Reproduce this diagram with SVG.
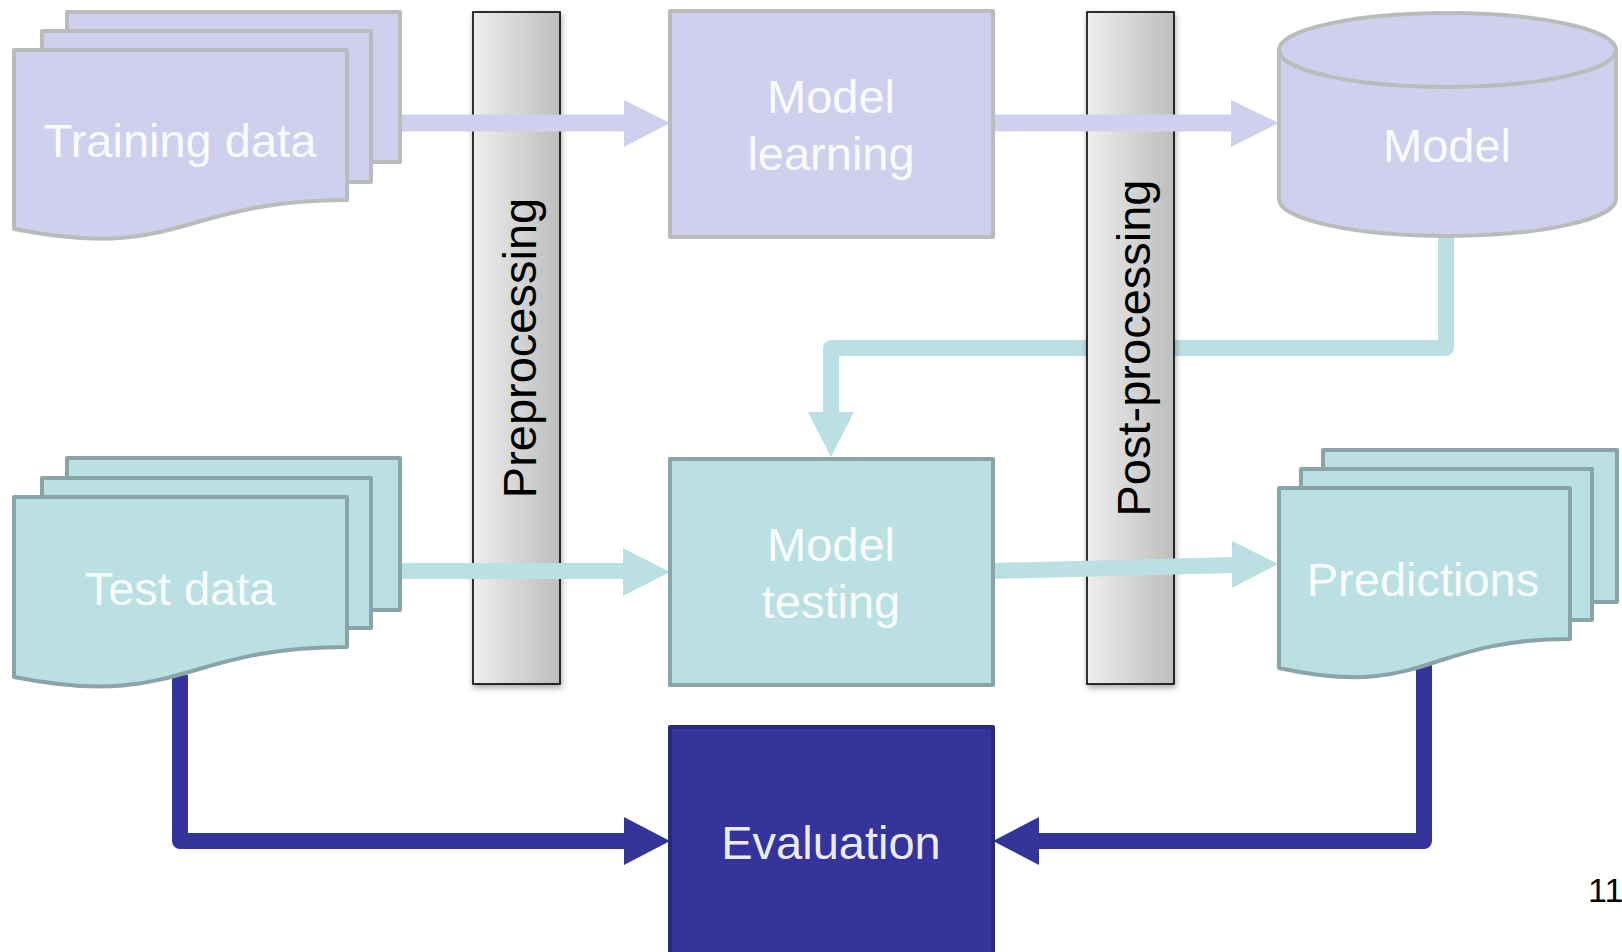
<svg xmlns="http://www.w3.org/2000/svg" width="1622" height="952" viewBox="0 0 1622 952">
<defs>
<linearGradient id="barGrad" x1="0" y1="0" x2="1" y2="0">
<stop offset="0" stop-color="#EEEEEE"/>
<stop offset="1" stop-color="#BDBDBD"/>
</linearGradient>
<filter id="shadow" x="-30%" y="-5%" width="160%" height="110%">
<feDropShadow dx="1" dy="3" stdDeviation="3" flood-color="#000" flood-opacity="0.35"/>
</filter>
</defs>
<style>
.lav{fill:#CFD0EE;stroke:#BBBBBB;stroke-width:4;stroke-linejoin:round}
.cya{fill:#BBE0E3;stroke:#8AA5A7;stroke-width:4;stroke-linejoin:round}
.nav{fill:#34349A;stroke:#2B2B78;stroke-width:4;stroke-linejoin:round}
.lbl{font-family:"Liberation Sans",Arial,sans-serif;font-size:47px;text-anchor:middle;fill:#FFFFFF;fill-opacity:0.93}
.bartxt{font-family:"Liberation Sans",Arial,sans-serif;font-size:47px;text-anchor:middle;fill:#000000}
.bar{fill:url(#barGrad);stroke:#000;stroke-width:1.6}
.lineL{fill:none;stroke:#CFD0EE;stroke-width:17}
.lineC{fill:none;stroke:#BBE0E3;stroke-width:16;stroke-linejoin:round}
.lineN{fill:none;stroke:#34349A;stroke-width:16;stroke-linejoin:round}
.headL{fill:#CFD0EE}
.headC{fill:#BBE0E3}
.headN{fill:#34349A}
</style>
<rect width="1622" height="952" fill="#FFFFFF"/>

<g id="connectors-under">
<polyline class="lineC" points="1446,230 1446,348 831,348 831,414"/>
<polygon class="headC" points="808,412 854,412 831,457"/>
</g>

<g id="preprocessing">
<rect class="bar" x="473" y="12" width="87" height="672" filter="url(#shadow)"/>
<text class="bartxt" transform="translate(536,348) rotate(-90)">Preprocessing</text>
</g>
<g id="post-processing">
<rect class="bar" x="1087" y="12" width="87" height="672" filter="url(#shadow)"/>
<text class="bartxt" transform="translate(1150,348) rotate(-90)">Post-processing</text>
</g>

<g id="connectors">
<line class="lineL" x1="398" y1="123" x2="626" y2="123"/>
<polygon class="headL" points="624,100 670,123 624,147"/>
<line class="lineL" x1="991" y1="123" x2="1233" y2="123"/>
<polygon class="headL" points="1231,100 1279,123 1231,147"/>
<line class="lineC" x1="398" y1="571" x2="626" y2="571"/>
<polygon class="headC" points="623,548 670,572 623,596"/>
<line class="lineC" x1="991" y1="571" x2="1234" y2="565"/>
<polygon class="headC" points="1232,541 1278,564 1232,588"/>
<polyline class="lineN" points="180,675 180,841 626,841"/>
<polygon class="headN" points="624,817 670,841 624,865"/>
<polyline class="lineN" points="1424,660 1424,841 1037,841"/>
<polygon class="headN" points="1039,817 993,841 1039,865"/>
</g>

<g id="training-data">
<rect class="lav" x="67" y="12" width="333" height="150"/>
<rect class="lav" x="42" y="31" width="329" height="151"/>
<path class="lav" d="M14,50 H347 V200 C180.5,200 180.5,262 14,229 Z"/>
<text class="lbl" x="180" y="157">Training data</text>
</g>

<g id="model-learning">
<rect class="lav" x="670" y="11" width="323" height="226"/>
<text class="lbl" x="831" y="113">Model</text>
<text class="lbl" x="831" y="170">learning</text>
</g>

<g id="model">
<path class="lav" d="M1279,50 V199 A168.5,37 0 0 0 1616,199 V50 Z"/>
<ellipse class="lav" cx="1447.5" cy="50" rx="168.5" ry="37"/>
<text class="lbl" x="1447" y="162">Model</text>
</g>

<g id="test-data">
<rect class="cya" x="67" y="458" width="333" height="152"/>
<rect class="cya" x="42" y="478" width="329" height="150"/>
<path class="cya" d="M14,497 H347 V647 C180.5,647 180.5,710 14,677 Z"/>
<text class="lbl" x="180" y="605">Test data</text>
</g>

<g id="model-testing">
<rect class="cya" x="670" y="459" width="323" height="226"/>
<text class="lbl" x="831" y="561">Model</text>
<text class="lbl" x="831" y="618">testing</text>
</g>

<g id="predictions">
<rect class="cya" x="1323" y="450" width="294" height="152"/>
<rect class="cya" x="1301" y="469" width="291" height="151"/>
<path class="cya" d="M1279,488 H1570 V639 C1424.5,639 1424.5,700 1279,668 Z"/>
<text class="lbl" x="1423" y="596">Predictions</text>
</g>

<g id="evaluation">
<rect class="nav" x="670" y="727" width="323" height="235"/>
<text class="lbl" x="831" y="859" fill-opacity="1">Evaluation</text>
</g>

<text x="1588" y="902" font-family="Liberation Sans, Arial, sans-serif" font-size="34" fill="#000000">11</text>
</svg>
